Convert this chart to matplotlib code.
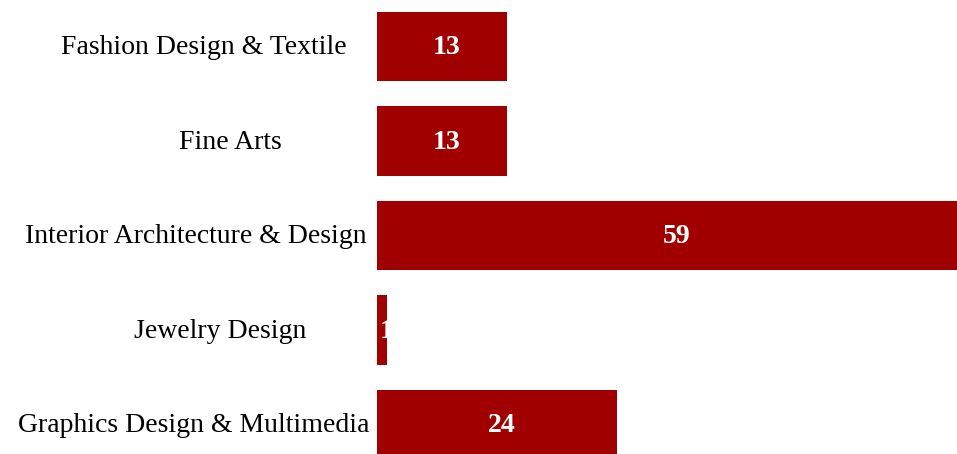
import matplotlib
matplotlib.use("Agg")
import matplotlib.pyplot as plt
from matplotlib.transforms import offset_copy

# data
categories = ["Fashion Design & Textile", "Fine Arts", "Interior Architecture & Design",
              "Jewelry Design", "Graphics Design & Multimedia"]
counts = [13, 13, 59, 1, 24]

bar_color = "#a00000"
plt.rcParams['font.family'] = ['Liberation Serif', 'DejaVu Serif']

fig = plt.figure(figsize=(9.57, 4.54), dpi=100)
ax = fig.add_axes([377 / 957, 0, 1 - 377 / 957, 1])

pos = list(range(len(categories)))
bars = ax.barh(pos, counts, height=0.74, color=bar_color)
# the widest bar runs off the right edge
ax.set_xlim(0, 57.9)
ax.set_ylim(4.312, -0.492)
ax.axis("off")

# value labels, clipped to their bar
shift = offset_copy(ax.transData, fig=fig, x=4.5, y=-1, units="dots")
for b, v in zip(bars, counts):
    t = ax.text(v / 2, b.get_y() + b.get_height() / 2, str(v), color="white",
                fontsize=20, fontweight="bold", ha="center", va="center",
                transform=shift)
    t.set_clip_path(b)

# category labels; the centre drifts left as the label gets longer
fig.canvas.draw()
renderer = fig.canvas.get_renderer()
lab_shift = offset_copy(ax.get_yaxis_transform(), fig=fig, x=0, y=-1, units="dots")
for p, name in zip(pos, categories):
    t = ax.text(0, p, name, fontsize=20, ha="center", va="center",
                transform=lab_shift)
    w = t.get_window_extent(renderer).width
    cx = 245 - 0.145 * w
    t.set_x((cx - 377) / (957 - 377))
    t.set_clip_on(False)

fig.savefig("out.png", dpi=100)
